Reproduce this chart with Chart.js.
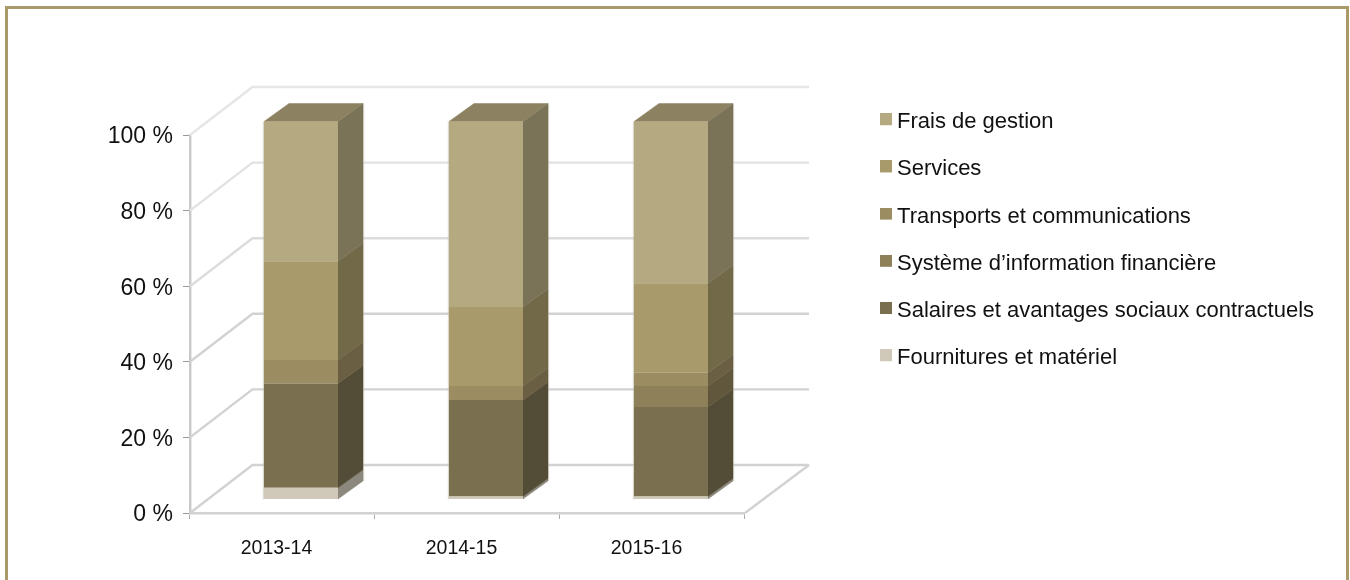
<!DOCTYPE html>
<html><head><meta charset="utf-8">
<style>
html,body{margin:0;padding:0;background:#fff;overflow:hidden}
#frame{position:absolute;left:5px;top:6px;width:1344px;height:574px;box-sizing:border-box;border:3px solid #A89A6A;border-bottom:none}
#c{position:absolute;left:0;top:0}
</style>
<script src="https://cdn.jsdelivr.net/npm/chart.js@4"></script>
</head><body>
<div id="frame"></div>
<canvas id="c" width="1350" height="580"></canvas>
<script>
const categories = ['2013-14','2014-15','2015-16'];
const fournitures = [3.1,0.8,0.8];
const salaires = [27.6,25.5,23.7];
const systeme = [0,0,5.5];
const transports = [6.2,3.7,3.5];
const services = [26.1,20.9,23.7];
const frais = [37.0,49.1,42.8];
const yTicks = [0,20,40,60,80,100];
const seriesNames = ['Fournitures et matériel','Salaires et avantages sociaux contractuels','Système d’information financière','Transports et communications','Services','Frais de gestion'];
const seriesColors = ['#D0C8B8','#7A704F','#8E8058','#9C8C62','#A89A6A','#B5A982'];
const seriesValues = [fournitures,salaires,systeme,transports,services,frais];

// depth vectors of the pseudo-3D plot
const WALL = {dx:62.5, dy:-48, rightDx:64};
const BAR_OFFSET = {dx:18.5, dy:-13.5};
const BAR_DEPTH = {dx:25, dy:-18};
const LEGEND_PAD = 25.2;

function shade(hex,f){
  const n=parseInt(hex.slice(1),16);
  return `rgb(${Math.round((n>>16&255)*f)},${Math.round((n>>8&255)*f)},${Math.round((n&255)*f)})`;
}
function poly(ctx,pts,fill){
  ctx.beginPath();pts.forEach((p,i)=>i?ctx.lineTo(p[0],p[1]):ctx.moveTo(p[0],p[1]));ctx.closePath();
  ctx.fillStyle=fill;ctx.fill();ctx.strokeStyle=fill;ctx.lineWidth=0.5;ctx.stroke();
}
function swatch(color){
  const c=document.createElement('canvas');c.width=12;c.height=18;
  const g=c.getContext('2d');g.fillStyle=color;g.fillRect(0,0,12,12);
  return c;
}
const plot3d = {
  id:'plot3d',
  afterLayout(chart){
    const l=chart.legend,h=l.bottom-l.top;
    l.left=886-LEGEND_PAD;l.width=460;l.right=l.left+460;
    l.top=86;l.bottom=86+h;
  },
  beforeDatasetsDraw(chart){
    const {ctx,chartArea:a,scales:{y}}=chart;
    ctx.save();
    ctx.lineWidth=2.4;ctx.lineCap='butt';
    yTicks.forEach(t=>{
      const py=y.getPixelForValue(t);
      ctx.strokeStyle= t===100?'#e6e6e6':(t===80?'#e2e2e2':(t===60?'#dcdcdc':'#d2d2d2'));
      ctx.beginPath();
      ctx.moveTo(a.left,py);ctx.lineTo(a.left+WALL.dx,py+WALL.dy);ctx.lineTo(a.right+WALL.rightDx,py+WALL.dy);
      ctx.stroke();
    });
    const py0=y.getPixelForValue(0);
    ctx.strokeStyle='#d2d2d2';
    ctx.beginPath();ctx.moveTo(a.right,py0);ctx.lineTo(a.right+WALL.rightDx,py0+WALL.dy);ctx.stroke();
    chart.data.datasets.forEach((ds,di)=>{
      chart.getDatasetMeta(di).data.forEach((bar,i)=>{
        if(!ds.data[i]) return;
        const r=bar.x+bar.width/2+BAR_OFFSET.dx, t=bar.y+BAR_OFFSET.dy, b=bar.base+BAR_OFFSET.dy, d=BAR_DEPTH;
        poly(ctx,[[r,t],[r+d.dx,t+d.dy],[r+d.dx,b+d.dy],[r,b]],shade(ds.backgroundColor,0.68));
      });
    });
    const last=chart.getDatasetMeta(chart.data.datasets.length-1);
    last.data.forEach(bar=>{
      const l=bar.x-bar.width/2+BAR_OFFSET.dx, r=bar.x+bar.width/2+BAR_OFFSET.dx, t=bar.y+BAR_OFFSET.dy, d=BAR_DEPTH;
      poly(ctx,[[l,t],[r,t],[r+d.dx,t+d.dy],[l+d.dx,t+d.dy]],'#8C8262');
    });
    // pale halo along the bar edges
    const base=chart.getDatasetMeta(0);
    ctx.lineWidth=1.2;ctx.strokeStyle='rgba(190,186,170,0.55)';
    last.data.forEach((bar,i)=>{
      const l=bar.x-bar.width/2+BAR_OFFSET.dx, r=bar.x+bar.width/2+BAR_OFFSET.dx, t=bar.y+BAR_OFFSET.dy, b=base.data[i].base+BAR_OFFSET.dy, d=BAR_DEPTH;
      ctx.beginPath();ctx.moveTo(l-0.6,t);ctx.lineTo(l-0.6,b+0.5);ctx.stroke();
      ctx.beginPath();ctx.moveTo(r+d.dx+0.6,t+d.dy);ctx.lineTo(r+d.dx+0.6,b+d.dy);ctx.stroke();
    });
    ctx.restore();
    ctx.save();
    ctx.translate(BAR_OFFSET.dx,BAR_OFFSET.dy);
  },
  afterDatasetsDraw(chart){ chart.ctx.restore(); }
};
new Chart(document.getElementById('c'),{
  type:'bar',
  data:{labels:categories,datasets:seriesNames.map((n,i)=>({label:n,data:seriesValues[i],backgroundColor:seriesColors[i],clip:false,borderWidth:0}))},
  plugins:[plot3d],
  options:{
    responsive:false,animation:false,devicePixelRatio:1,
    layout:{padding:{left:0,top:135,right:356.67,bottom:0}},
    datasets:{bar:{categoryPercentage:1,barPercentage:0.4}},
    plugins:{
      tooltip:{enabled:false},
      legend:{display:true,position:'right',align:'start',reverse:true,
        labels:{usePointStyle:true,pointStyleWidth:0.01,boxHeight:12,padding:LEGEND_PAD,color:'#111',font:{family:'"Liberation Sans"',size:22},
          generateLabels(chart){
            const items=Chart.defaults.plugins.legend.labels.generateLabels(chart);
            items.forEach(it=>{it.pointStyle=swatch(seriesColors[it.datasetIndex]);});
            return items;
          }}
      }
    },
    scales:{
      x:{stacked:true,
        afterFit(s){s.height=67;},
        grid:{drawOnChartArea:false,drawTicks:true,tickLength:6,color:'#aaaaaa',offset:true},
        border:{color:'#d2d2d2',width:2.4},
        ticks:{color:'#111',padding:18,labelOffset:-6,maxRotation:0,font:{family:'"Liberation Sans"',size:19.5}}
      },
      y:{stacked:true,min:0,max:100,
        afterFit(s){s.width=190;},
        afterBuildTicks(s){s.ticks=yTicks.map(v=>({value:v}));},
        grid:{drawOnChartArea:false,drawTicks:true,tickLength:7,color:'#999999'},
        border:{color:'#c8c8c8',width:2.4},
        ticks:{color:'#111',padding:10,labelOffset:2,font:{family:'"Liberation Sans"',size:23},callback:v=>v+' %'}
      }
    }
  }
});
</script>
</body></html>
